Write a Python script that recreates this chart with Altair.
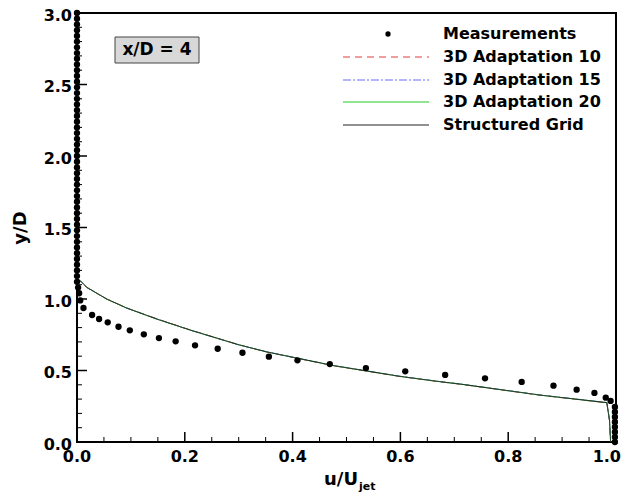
import altair as alt
import pandas as pd

# ---------------- data ----------------
meas_x = [0.0] * 48 + [0.002, 0.004, 0.006, 0.012, 0.028, 0.041, 0.057, 0.077, 0.098, 0.124,
                       0.152, 0.183, 0.219, 0.261, 0.307, 0.356, 0.409, 0.469, 0.536, 0.609,
                       0.683, 0.757, 0.825, 0.884, 0.927, 0.960, 0.981, 0.990,
                       0.998, 0.998, 0.998, 0.998, 0.998, 0.998, 0.998, 0.998]
meas_y = [3.00, 2.96, 2.92, 2.88, 2.84, 2.80, 2.76, 2.72, 2.68, 2.64, 2.60, 2.56,
          2.52, 2.48, 2.44, 2.40, 2.36, 2.32, 2.28, 2.24, 2.20, 2.16, 2.12, 2.08,
          2.04, 2.00, 1.96, 1.92, 1.88, 1.84, 1.80, 1.76, 1.72, 1.68, 1.64, 1.60,
          1.56, 1.52, 1.48, 1.44, 1.40, 1.36, 1.32, 1.28, 1.24, 1.20, 1.16, 1.12,
          1.08, 1.04, 0.99, 0.937, 0.888, 0.860, 0.837, 0.806, 0.781, 0.753,
          0.727, 0.704, 0.676, 0.652, 0.624, 0.597, 0.571, 0.545, 0.517, 0.494,
          0.469, 0.445, 0.420, 0.394, 0.366, 0.343, 0.310, 0.287,
          0.245, 0.210, 0.175, 0.140, 0.105, 0.070, 0.035, 0.0]

grid_x = [0.0, 0.0, 0.006, 0.018, 0.055, 0.092, 0.148, 0.21, 0.30, 0.352, 0.476, 0.599,
          0.673, 0.711, 0.859, 0.983, 0.988, 0.990]
struct_y = [3.0, 1.14, 1.128, 1.082, 1.0, 0.937, 0.860, 0.783, 0.680, 0.630, 0.534, 0.459,
            0.422, 0.405, 0.328, 0.275, 0.15, 0.0]
adapt10_y = [3.0, 1.14, 1.126, 1.080, 1.0, 0.938, 0.862, 0.784, 0.681, 0.629, 0.533, 0.458,
             0.421, 0.404, 0.327, 0.274, 0.15, 0.0]
adapt15_y = [3.0, 1.14, 1.127, 1.081, 1.001, 0.936, 0.861, 0.782, 0.679, 0.631, 0.535, 0.460,
             0.423, 0.406, 0.329, 0.276, 0.15, 0.0]
adapt20_y = [3.0, 1.14, 1.129, 1.083, 0.999, 0.937, 0.859, 0.783, 0.680, 0.630, 0.534, 0.459,
             0.422, 0.405, 0.328, 0.275, 0.15, 0.0]

legend_labels = ["Measurements", "3D Adaptation 10", "3D Adaptation 15",
                 "3D Adaptation 20", "Structured Grid"]
x_major = [0.0, 0.2, 0.4, 0.6, 0.8, 1.0]
x_minor = [0.05, 0.1, 0.15, 0.25, 0.3, 0.35, 0.45, 0.5, 0.55, 0.65, 0.7, 0.75,
           0.85, 0.9, 0.95]
y_major = [0.0, 0.5, 1.0, 1.5, 2.0, 2.5, 3.0]
y_minor = [0.1, 0.2, 0.3, 0.4, 0.6, 0.7, 0.8, 0.9, 1.1, 1.2, 1.3, 1.4, 1.6, 1.7, 1.8,
           1.9, 2.1, 2.2, 2.3, 2.4, 2.6, 2.7, 2.8, 2.9]

# ---------------- styles ----------------
W, H = 539, 429
FONT = "DejaVu Sans"
series_style = {
    "3D Adaptation 10": dict(color="#e03c3c", dash=[7, 5]),
    "3D Adaptation 15": dict(color="#6a6aff", dash=[8, 2, 2, 2]),
    "3D Adaptation 20": dict(color="#22cc22", dash=[1, 0]),
    "Structured Grid": dict(color="#222222", dash=[1, 0]),
}
series_y = {
    "3D Adaptation 10": adapt10_y,
    "3D Adaptation 15": adapt15_y,
    "3D Adaptation 20": adapt20_y,
    "Structured Grid": struct_y,
}

xscale = alt.Scale(domain=[0, 1], nice=False, zero=False)
yscale = alt.Scale(domain=[0, 3], nice=False, zero=False)

def X(f):
    return alt.X(f, scale=xscale, axis=None)

def Y(f):
    return alt.Y(f, scale=yscale, axis=None)

layers = []

# plot frame
layers.append(alt.Chart(pd.DataFrame({"a": [0]})).mark_rect(fill=None, stroke="black",
                                                            strokeWidth=2)
              .encode(x=alt.value(0), x2=alt.value(W), y=alt.value(0), y2=alt.value(H)))

for name in ["3D Adaptation 10", "3D Adaptation 15", "3D Adaptation 20", "Structured Grid"]:
    df = pd.DataFrame({"x": grid_x, "y": series_y[name], "i": list(range(len(grid_x)))})
    st = series_style[name]
    layers.append(
        alt.Chart(df).mark_line(color=st["color"], strokeWidth=1, strokeDash=st["dash"])
        .encode(x=X("x:Q"), y=Y("y:Q"), order="i:Q")
    )

meas_df = pd.DataFrame({"x": meas_x, "y": meas_y})
layers.append(alt.Chart(meas_df).mark_point(filled=True, shape="circle", size=40,
                                            color="black", opacity=1, clip=False)
              .encode(x=X("x:Q"), y=Y("y:Q")))

# inward ticks
layers.append(alt.Chart(pd.DataFrame({"v": x_major})).mark_rule(color="black", strokeWidth=1.5)
              .encode(x=X("v:Q"), y=alt.value(H), y2=alt.value(H - 10)))
layers.append(alt.Chart(pd.DataFrame({"v": x_minor})).mark_rule(color="black", strokeWidth=1)
              .encode(x=X("v:Q"), y=alt.value(H), y2=alt.value(H - 5)))
layers.append(alt.Chart(pd.DataFrame({"v": y_major})).mark_rule(color="black", strokeWidth=1.5)
              .encode(y=Y("v:Q"), x=alt.value(0), x2=alt.value(10)))
layers.append(alt.Chart(pd.DataFrame({"v": y_minor})).mark_rule(color="black", strokeWidth=1)
              .encode(y=Y("v:Q"), x=alt.value(0), x2=alt.value(5)))

# tick labels through the scales
layers.append(alt.Chart(pd.DataFrame({"v": x_major[:-1]})).mark_text(
    font=FONT, fontSize=16, fontWeight="bold", color="black", align="center", baseline="top")
    .encode(x=X("v:Q"), y=alt.value(H + 7), text=alt.Text("v:Q", format=".1f")))
layers.append(alt.Chart(pd.DataFrame({"v": x_major[-1:]})).mark_text(
    font=FONT, fontSize=16, fontWeight="bold", color="black", align="right", baseline="top",
    dx=5)
    .encode(x=X("v:Q"), y=alt.value(H + 7), text=alt.Text("v:Q", format=".1f")))
layers.append(alt.Chart(pd.DataFrame({"v": y_major})).mark_text(
    font=FONT, fontSize=16, fontWeight="bold", color="black", align="right",
    baseline="middle", dy=2.5)
    .encode(y=Y("v:Q"), x=alt.value(-5), text=alt.Text("v:Q", format=".1f")))

# axis titles
layers.append(alt.Chart(pd.DataFrame({"t": ["y/D"]})).mark_text(
    font=FONT, fontSize=18, fontWeight="bold", color="black", align="center",
    baseline="middle", angle=270).encode(text="t:N", x=alt.value(-56), y=alt.value(215)))
layers.append(alt.Chart(pd.DataFrame({"t": ["u/U"]})).mark_text(
    font=FONT, fontSize=18, fontWeight="bold", color="black", align="left",
    baseline="alphabetic").encode(text="t:N", x=alt.value(247), y=alt.value(472)))
layers.append(alt.Chart(pd.DataFrame({"t": ["jet"]})).mark_text(
    font=FONT, fontSize=11, fontWeight="bold", color="black", align="left",
    baseline="alphabetic").encode(text="t:N", x=alt.value(282), y=alt.value(477)))

# legend
row_y = [21, 44, 67, 89, 112]
for lab, ry in zip(legend_labels, row_y):
    d = pd.DataFrame({"t": [lab]})
    if lab == "Measurements":
        layers.append(alt.Chart(d).mark_point(filled=True, shape="circle", size=28,
                                              color="black", opacity=1)
                      .encode(x=alt.value(311), y=alt.value(ry)))
    else:
        st = series_style[lab]
        layers.append(alt.Chart(d).mark_rule(color=st["color"], strokeWidth=1,
                                             strokeDash=st["dash"])
                      .encode(x=alt.value(266), x2=alt.value(352), y=alt.value(ry)))
    layers.append(alt.Chart(d).mark_text(font=FONT, fontSize=16, fontWeight="bold",
                                         color="black", align="left", baseline="middle")
                  .encode(text="t:N", x=alt.value(366), y=alt.value(ry)))

# x/D box
bd = pd.DataFrame({"t": ["x/D = 4"]})
layers.append(alt.Chart(bd).mark_rect(fill="#d8d8d8", stroke="#444444", strokeWidth=1)
              .encode(x=alt.value(38), x2=alt.value(122), y=alt.value(24), y2=alt.value(50)))
layers.append(alt.Chart(bd).mark_text(font=FONT, fontSize=17, fontWeight="bold",
                                      color="black", align="center", baseline="middle")
              .encode(text="t:N", x=alt.value(80), y=alt.value(37)))

chart = alt.layer(*layers).properties(
    width=W, height=H,
    autosize=alt.AutoSizeParams(type="none"),
    padding={"left": 69, "top": 5, "right": 5, "bottom": 50},
).configure(background="white").configure_view(strokeWidth=0)

chart.save("out.html", embed_options={"renderer": "svg", "actions": False})
